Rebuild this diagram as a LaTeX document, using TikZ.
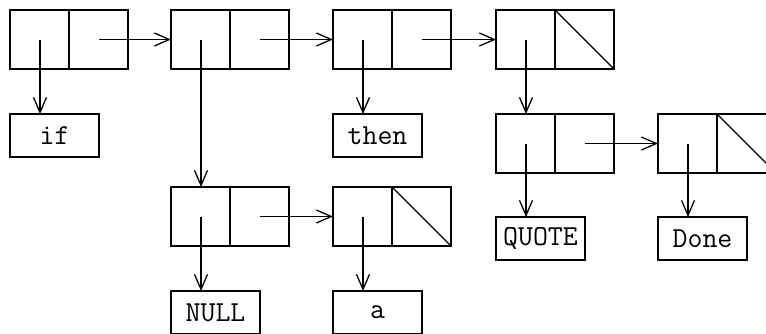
\documentclass[tikz,border=0pt]{standalone}
\usetikzlibrary{arrows.meta,calc}
\begin{document}
\begin{tikzpicture}[x=1pt,y=-1pt,
 cell/.style={draw,line width=1.8pt,minimum width=118pt,minimum height=59pt,inner sep=0pt,outer sep=0pt,anchor=north west},
 atom/.style={draw,line width=1.8pt,minimum width=89pt,minimum height=43pt,inner sep=0pt,outer sep=0pt,anchor=north west,font=\ttfamily\fontsize{29}{29}\selectfont},
 div/.style={line width=1.2pt},
 diag/.style={line width=1.4pt},
 ptr/.style={line width=1.3pt,-{Straight Barb[length=15pt,width=13pt,line width=1.3pt]}}]
\clip (0,0) rectangle (766,333);
% cells
\node[cell] (c1) at (10,10) {};
\node[cell] (c2) at (171,10) {};
\node[cell] (c3) at (333,10) {};
\node[cell] (c4) at (496,10) {};
\node[cell] (c5) at (496,114) {};
\node[cell] (c6) at (658,114) {};
\node[cell] (c7) at (171,187) {};
\node[cell] (c8) at (333,187) {};
% atoms
\node[atom] (if) at (10,114) {if};
\node[atom] (then) at (333,114) {then};
\node[atom] (quote) at (496,217) {QUOTE};
\node[atom] (done) at (658,217) {Done};
\node[atom] (null) at (171,291) {NULL};
\node[atom] (a) at (333,291) {a};
% dividers
\foreach \c in {c1,c2,c3,c4,c5,c6,c7,c8}{
  \draw[div] (\c.north) -- (\c.south);
  \coordinate (\c a) at ($(\c.west)+(30,0)$);
  \coordinate (\c d) at ($(\c.east)+(-29,0)$);
}
% nil diagonals
\draw[diag] (c4.north) -- (c4.south east);
\draw[diag] (c6.north) -- (c6.south east);
\draw[diag] (c8.north) -- (c8.south east);
% car pointers
\draw[ptr] (c1a) -- (c1a |- if.north);
\draw[ptr] (c2a) -- (c2a |- c7.north);
\draw[ptr] (c3a) -- (c3a |- then.north);
\draw[ptr] (c4a) -- (c4a |- c5.north);
\draw[ptr] (c5a) -- (c5a |- quote.north);
\draw[ptr] (c6a) -- (c6a |- done.north);
\draw[ptr] (c7a) -- (c7a |- null.north);
\draw[ptr] (c8a) -- (c8a |- a.north);
% cdr pointers
\draw[ptr] (c1d) -- (c2.west);
\draw[ptr] (c2d) -- (c3.west);
\draw[ptr] (c3d) -- (c4.west);
\draw[ptr] (c5d) -- (c6.west);
\draw[ptr] (c7d) -- (c8.west);
\end{tikzpicture}
\end{document}
